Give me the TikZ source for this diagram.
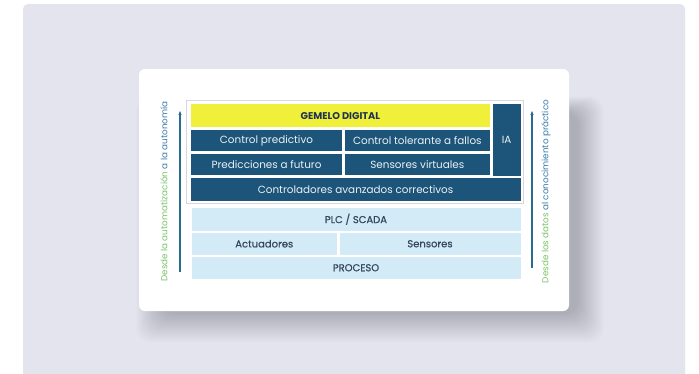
\documentclass[tikz,border=0pt]{standalone}
\usepackage{fontspec}
\setmainfont{Poppins}
\usetikzlibrary{arrows.meta}
\definecolor{bgc}{HTML}{E4E4EE}
\definecolor{darkb}{HTML}{1C5579}
\definecolor{yel}{HTML}{F0F03A}
\definecolor{lightb}{HTML}{D3EBF7}
\definecolor{navy}{HTML}{1E3350}
\definecolor{ltxt}{HTML}{34475F}
\definecolor{sgreen}{HTML}{7CC46A}
\definecolor{sblue}{HTML}{3B7EA8}
\definecolor{arrc}{HTML}{2A6A8A}
\definecolor{brd}{HTML}{D6D6DC}
\newcommand{\mkbox}[7]{%
  \node[#6, minimum width={(#4-#2)*1pt}, minimum height={(#5-#3)*1pt}] (#1) at ({(#2+#4)/2},{(#3+#5)/2}) {#7};}
\begin{document}
\begin{tikzpicture}[x=1pt,y=-1pt,
  darkbox/.style={fill=darkb, text=white!92!darkb, inner sep=0pt, font=\fontsize{10.4}{12}\selectfont},
  yelbox/.style={fill=yel, text=navy, inner sep=0pt, font=\fontsize{9.8}{12}\selectfont\bfseries},
  lbox/.style={fill=lightb, text=ltxt, inner sep=0pt, font=\fontsize{10}{12}\selectfont\addfontfeatures{FakeBold=0.6}},
  sidetxt/.style={rotate=90, inner sep=0pt, font=\fontsize{8.8}{10}\selectfont},
  sidearrow/.style={arrc, line width=1.1pt, -{Stealth[length=4pt,width=3.2pt]}}
]
\useasboundingbox (0,0) rectangle (699,373);
\fill[white] (0,0) rectangle (699,373);
\fill[bgc, rounded corners=5pt] (23,4) rectangle (685,380);
% shadow
\foreach \i in {0,...,26} {
  \fill[black!80!blue, opacity=0.008, rounded corners=14pt] (162-\i,112-0.6*\i) rectangle (578+\i,314+1.1*\i);
}
\fill[white, rounded corners=6pt] (139,69) rectangle (569,311);
% outer border of upper section
\draw[brd, line width=0.8pt] (186.5,100.5) rectangle (523,203);
\mkbox{gem}{190.7}{104.3}{490}{127}{yelbox}{GEMELO DIGITAL}
\mkbox{ia}{492.7}{104.3}{520.5}{176}{darkbox}{IA}
\mkbox{cp}{190.7}{130}{342.3}{151}{darkbox}{Control predictivo}
\mkbox{ctf}{345}{130}{489.7}{151}{darkbox}{Control tolerante a fallos}
\mkbox{pf}{190.7}{154}{342.3}{175}{darkbox}{Predicciones a futuro}
\mkbox{sv}{345}{154}{489.7}{175}{darkbox}{Sensores virtuales}
\mkbox{cac}{190.7}{178}{520.5}{200.5}{darkbox}{Controladores avanzados correctivos}
\mkbox{plc}{191.5}{208}{520.5}{230.5}{lbox}{PLC / SCADA}
\mkbox{act}{191.5}{233}{337}{254.5}{lbox}{Actuadores}
\mkbox{sen}{339.5}{233}{520.5}{254.5}{lbox}{Sensores}
\mkbox{proc}{191.5}{257}{520.5}{278.5}{lbox}{PROCESO}
% side arrows
\coordinate (la0) at (180,272);
\coordinate (la1) at (180,111);
\coordinate (ra0) at (532,268);
\coordinate (ra1) at (532,111);
\draw[sidearrow] (la0) -- (la1);
\draw[sidearrow] (ra0) -- (ra1);
\node[sidetxt] (ltxt) at (164,191.5) {\textcolor{sgreen}{Desde la automatización} \textcolor{sblue}{a la autonomía}};
\node[sidetxt] (rtxt) at (546,191.5) {\textcolor{sgreen}{Desde los datos} \textcolor{sblue}{al conocimiento práctico}};
\end{tikzpicture}
\end{document}
